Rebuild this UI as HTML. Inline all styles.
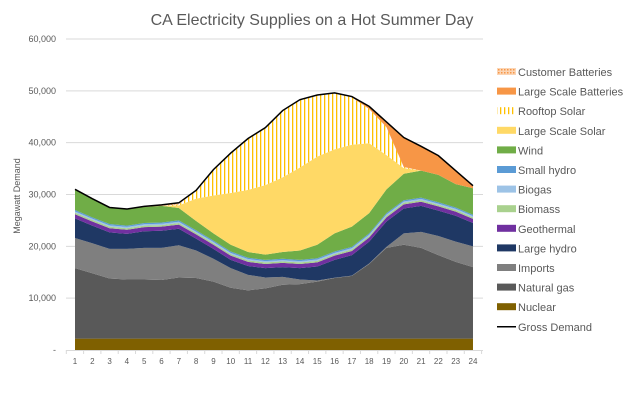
<!DOCTYPE html>
<html><head><meta charset="utf-8"><style>
body{margin:0;background:#fff;}
svg{display:block;font-family:"Liberation Sans",sans-serif;}
</style></head><body>
<svg id="c" width="624" height="410" viewBox="0 0 624 410" xmlns="http://www.w3.org/2000/svg">
<defs>
<pattern id="roof" width="4" height="4" patternUnits="userSpaceOnUse"><rect width="4" height="4" fill="#fff"/><rect x="0" width="1.3" height="4" fill="#ffc000"/></pattern>
<pattern id="cust" width="3" height="3" patternUnits="userSpaceOnUse"><rect width="3" height="3" fill="#fbd5b5"/><rect width="1.5" height="1.5" fill="#f79646"/></pattern>
</defs>
<rect width="624" height="410" fill="#fff"/>
<text x="312" y="25" text-anchor="middle" font-size="16" fill="#595959">CA Electricity Supplies on a Hot Summer Day</text>
<g id="grid"></g>
<g id="areas"></g>
<g id="axes"></g>
<text transform="translate(20,196) rotate(-90)" text-anchor="middle" font-size="9" fill="#595959">Megawatt Demand</text>
<g id="legend" font-size="11" fill="#595959"></g>
</svg>
<script>
const NS="http://www.w3.org/2000/svg";
const X=h=>75+(h-1)*17.304, Y=v=>350-v*0.005183;
const nuc=Array(24).fill(2200);
const gas=[15800,14800,13800,13600,13600,13500,14000,13900,13200,12000,11500,11900,12600,12700,13200,13900,14300,16600,19700,20300,19700,18300,17000,16000];
const imp=[21600,20600,19500,19500,19700,19700,20200,19200,17600,15800,14500,14000,14100,13600,13400,13950,14350,16700,19900,22500,22800,22000,20900,20000];
const lh=[25400,24000,22700,22400,22900,23000,23400,21500,19500,17400,16200,15800,16000,15800,16100,17400,18300,20900,24800,27300,27800,26900,25900,24500];
const geo=lh.map(v=>v+800), bm=geo.map(v=>v+300), bg=bm.map(v=>v+250), sh=bg.map(v=>v+250);
const wind=[31000,29200,27500,27200,27600,27800,27400,24900,22500,20300,18900,18400,18900,19200,20300,22500,23800,26400,31000,34000,34600,33800,32000,31200];
const dem=[31000,29200,27500,27200,27700,28000,28400,30800,34800,38000,40800,42900,46200,48300,49200,49600,48900,47000,44000,41000,39300,37500,34600,31700];
const ls=wind.map((w,i)=>[w,w,w,w,w,w,27900,29200,29800,30300,30900,31800,33300,35200,37300,38700,39600,39900,37600,35100,34600,33800,32000,31200][i]);
const roof=ls.map((s,i)=>{if(i<6)return s;if(i<17)return dem[i]-(i==16?150:0)-(i==6?300:0);return [46500,43000,35300,34600,33800,32000,31200][i-17];});
const cust=roof.map((r,i)=>i==6?r+300:r);
const bat=dem;
const layers=[[nuc,"#7f6000",null],[gas,"#595959",nuc],[imp,"#7f7f7f",gas],[lh,"#1f3864",imp],[geo,"#7030a0",lh],[bm,"#a9d18e",geo],[bg,"#9dc3e6",bm],[sh,"#5b9bd5",bg],[wind,"#70ad47",sh],[ls,"#ffd966",wind],[roof,"url(#roof)",ls],[cust,"url(#cust)",roof],[bat,"#f79646",cust]];
const A=document.getElementById("areas");
function el(t,a,p){const e=document.createElementNS(NS,t);for(const k in a)e.setAttribute(k,a[k]);(p||A).appendChild(e);return e;}
const G=document.getElementById("grid");
for(let v=10000;v<=60000;v+=10000)el("line",{x1:66,x2:483,y1:Y(v),y2:Y(v),stroke:"#d9d9d9","stroke-width":1},G);
for(const [top,fill,bot] of layers){
 let d="M"+X(1)+","+Y(top[0]);
 for(let i=1;i<24;i++)d+="L"+X(i+1)+","+Y(top[i]);
 for(let i=23;i>=0;i--)d+="L"+X(i+1)+","+Y(bot?bot[i]:0);
 el("path",{d:d+"Z",fill:fill});
}
let d="M"+X(1)+","+Y(dem[0]);for(let i=1;i<24;i++)d+="L"+X(i+1)+","+Y(dem[i]);
el("path",{d:d,fill:"none",stroke:"#000","stroke-width":1.5});
const AX=document.getElementById("axes");
el("line",{x1:66,x2:483,y1:350.5,y2:350.5,stroke:"#d9d9d9"},AX);
for(let h=0;h<=24;h++)el("line",{x1:66.3+h*17.304,x2:66.3+h*17.304,y1:350,y2:354,stroke:"#d9d9d9"},AX);
for(let h=1;h<=24;h++){const t=el("text",{x:X(h),y:364,"text-anchor":"middle","font-size":8,fill:"#595959"},AX);t.textContent=h;}
for(let v=0;v<=60000;v+=10000){const t=el("text",{x:56,y:Y(v)+3,"text-anchor":"end","font-size":9,fill:"#595959"},AX);t.textContent=v?v.toLocaleString("en-US"):"-";}
const L=document.getElementById("legend");
const items=[["Customer Batteries","url(#cust)"],["Large Scale Batteries","#f79646"],["Rooftop Solar","url(#roof)"],["Large Scale Solar","#ffd966"],["Wind","#70ad47"],["Small hydro","#5b9bd5"],["Biogas","#9dc3e6"],["Biomass","#a9d18e"],["Geothermal","#7030a0"],["Large hydro","#1f3864"],["Imports","#7f7f7f"],["Natural gas","#595959"],["Nuclear","#7f6000"],["Gross Demand",null]];
items.forEach(([n,c],i)=>{const y=72+i*19.6;
 if(c)el("rect",{x:497,y:y-4,width:19,height:7,fill:c},L);else el("line",{x1:497,x2:516,y1:y,y2:y,stroke:"#000","stroke-width":1.5},L);
 const t=el("text",{x:518,y:y+4},L);t.textContent=n;});
</script>
</body></html>
